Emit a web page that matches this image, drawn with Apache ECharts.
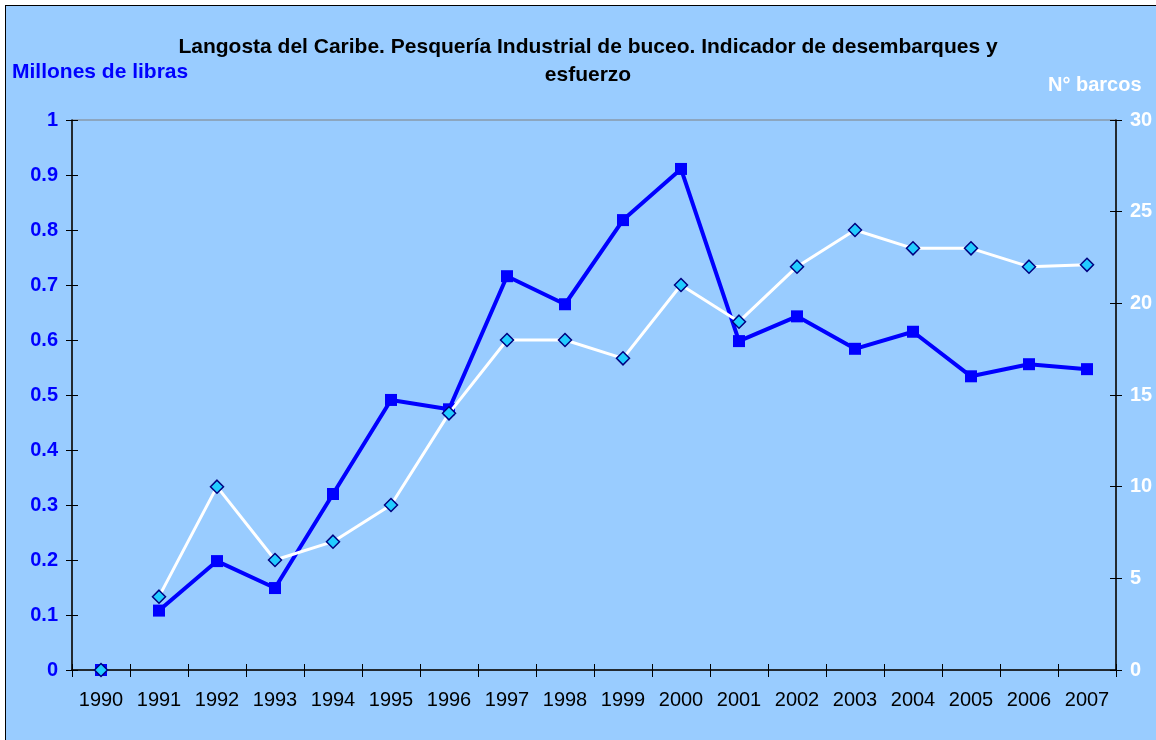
<!DOCTYPE html>
<html>
<head>
<meta charset="utf-8">
<script src="https://cdn.jsdelivr.net/npm/echarts@6/dist/echarts.min.js"></script>
<style>
  html, body { margin: 0; padding: 0; background: #ffffff; overflow: hidden; }
  .frame {
    position: absolute; left: 5px; top: 5px;
    width: 1151px; height: 735px;
    background: #99ccff;
    border-left: 1.5px solid #000000;
    border-top: 1.5px solid #000000;
  }
  #chart { position: absolute; left: 0; top: 0; width: 1156px; height: 740px; }
</style>
</head>
<body>
<div class="frame"></div>
<div id="chart"></div>
<script>
  // años
  var years = ['1990','1991','1992','1993','1994','1995','1996','1997','1998',
               '1999','2000','2001','2002','2003','2004','2005','2006','2007'];
  // desembarques, millones de libras (eje izquierdo)
  var landings = [0, 0.108, 0.198, 0.149, 0.32, 0.491, 0.474, 0.716, 0.665,
                  0.818, 0.911, 0.598, 0.643, 0.584, 0.615, 0.534, 0.556, 0.547];
  // esfuerzo, numero de barcos (eje derecho)
  var boats = [0, 4, 10, 6, 7, 9, 14, 18, 18, 17, 21, 19, 22, 24, 23, 23, 22, 22.1];

  // en el original 1990 no se une con 1991
  var landingsLine = landings.map(function (v, i) { return i === 0 ? '-' : v })
  var boatsLine = boats.map(function (v, i) { return i === 0 ? '-' : v })
  var landingsFirst = landings.map(function (v, i) { return i === 0 ? v : '-' })
  var boatsFirst = boats.map(function (v, i) { return i === 0 ? v : '-' })

  var blue = '#0000ff'
  var font = 'Liberation Sans, Arial, sans-serif'

  // ejes sin etiquetas, solo para que las marcas crucen la linea del eje
  var innerTicks = { show: true, inside: true, length: 6, lineStyle: { color: '#000000' } }

  var myChart = echarts.init(document.getElementById('chart'))
  var option = {
    backgroundColor: 'transparent',
    animation: false,
    textStyle: { fontFamily: font },
    title: {
      text: 'Langosta del Caribe. Pesquería Industrial de buceo. Indicador de desembarques y\nesfuerzo',
      left: 583,
      top: 28,
      textAlign: 'center',
      textStyle: { fontSize: 21, fontWeight: 'bold', color: '#000000', lineHeight: 28, fontFamily: font }
    },
    graphic: [
      {
        type: 'text', left: 12, top: 62,
        style: { text: 'Millones de libras', fill: blue, font: 'bold 21px ' + font }
      },
      {
        type: 'text', left: 1048, top: 75,
        style: { text: 'N° barcos', fill: '#ffffff', font: 'bold 20px ' + font }
      }
    ],
    grid: {
      left: 72, right: 40, top: 120, bottom: 70,
      show: true, borderColor: '#808080', borderWidth: 1,
      backgroundColor: 'transparent'
    },
    xAxis: [
      {
        type: 'category',
        data: years,
        boundaryGap: true,
        axisLine: { lineStyle: { color: '#000000', width: 1.5 } },
        axisTick: { show: true, length: 7, lineStyle: { color: '#000000' } },
        axisLabel: { color: '#000000', fontSize: 20, margin: 20, fontFamily: font }
      },
      {
        type: 'category',
        data: years,
        position: 'bottom',
        boundaryGap: true,
        axisLine: { show: false },
        axisTick: innerTicks,
        axisLabel: { show: false }
      }
    ],
    yAxis: [
      {
        type: 'value', min: 0, max: 1, interval: 0.1, position: 'left',
        splitLine: { show: false },
        axisLine: { show: true, lineStyle: { color: '#000000', width: 1.5 } },
        axisTick: { show: true, length: 6, lineStyle: { color: '#000000' } },
        axisLabel: { color: blue, fontSize: 20, fontWeight: 'bold', margin: 14, fontFamily: font }
      },
      {
        type: 'value', min: 0, max: 30, interval: 5, position: 'right',
        splitLine: { show: false },
        axisLine: { show: true, lineStyle: { color: '#000000', width: 1.5 } },
        axisTick: { show: true, length: 6, lineStyle: { color: '#000000' } },
        axisLabel: { color: '#ffffff', fontSize: 20, fontWeight: 'bold', margin: 14, fontFamily: font }
      },
      {
        type: 'value', min: 0, max: 1, interval: 0.1, position: 'left',
        splitLine: { show: false }, axisLine: { show: false },
        axisTick: innerTicks, axisLabel: { show: false }
      },
      {
        type: 'value', min: 0, max: 30, interval: 5, position: 'right',
        splitLine: { show: false }, axisLine: { show: false },
        axisTick: innerTicks, axisLabel: { show: false }
      }
    ],
    series: [
      {
        name: 'Desembarques',
        type: 'line',
        yAxisIndex: 0,
        data: landingsLine,
        connectNulls: false,
        symbol: 'rect',
        symbolSize: 12,
        lineStyle: { color: blue, width: 4 },
        itemStyle: { color: blue, borderWidth: 0 },
        z: 3
      },
      {
        name: 'Desembarques 1990',
        type: 'line',
        yAxisIndex: 0,
        data: landingsFirst,
        symbol: 'rect',
        symbolSize: 12,
        showSymbol: true,
        lineStyle: { width: 0 },
        itemStyle: { color: blue, borderWidth: 0 },
        z: 3
      },
      {
        name: 'Barcos',
        type: 'line',
        yAxisIndex: 1,
        data: boatsLine,
        connectNulls: false,
        symbol: 'diamond',
        symbolSize: [13, 13],
        lineStyle: { color: '#ffffff', width: 3 },
        itemStyle: { color: '#22ccff', borderColor: '#000080', borderWidth: 1.5 },
        z: 4
      },
      {
        name: 'Barcos 1990',
        type: 'line',
        yAxisIndex: 1,
        data: boatsFirst,
        symbol: 'diamond',
        symbolSize: [13, 13],
        lineStyle: { width: 0 },
        itemStyle: { color: '#22ccff', borderColor: '#000080', borderWidth: 1.5 },
        z: 4
      }
    ]
  };
  myChart.setOption(option);
</script>
</body>
</html>
